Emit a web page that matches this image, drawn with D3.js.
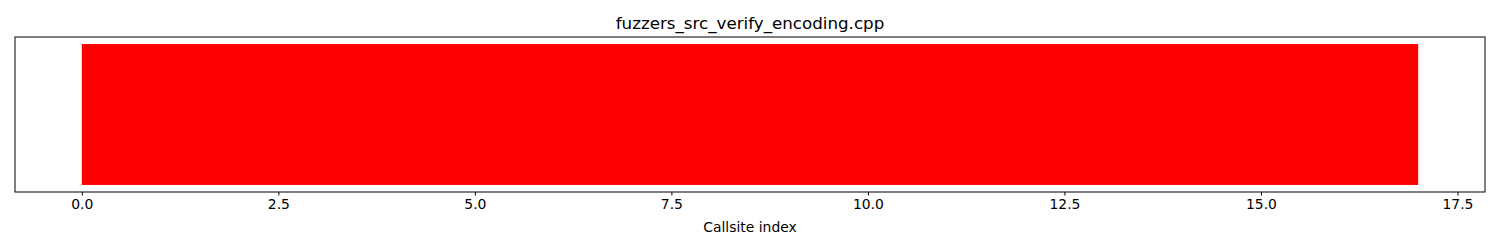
<!DOCTYPE html>
<html>
<head>
<meta charset="utf-8">
<script src="https://cdn.jsdelivr.net/npm/d3@7"></script>
<style>
  body { margin: 0; background: #fff; }
  text { font-family: "DejaVu Sans", sans-serif; fill: #000; }
</style>
</head>
<body>
<div id="chart"></div>
<script>
// data
var chartTitle = "fuzzers_src_verify_encoding.cpp";
var xLabel = "Callsite index";
var barStarts = [0];
var barEnds = [17];
var barColors = ["red"];
var xTicks = [0, 2.5, 5, 7.5, 10, 12.5, 15, 17.5];

var svgWidth = 1500;
var svgHeight = 250;
var margin = { top: 37, right: 15, bottom: 58, left: 15 };
var width = svgWidth - margin.left - margin.right;
var height = svgHeight - margin.top - margin.bottom;

var svg = d3.select("#chart").append("svg")
  .attr("width", svgWidth)
  .attr("height", svgHeight);

var g = svg.append("g")
  .attr("transform", `translate(${margin.left}, ${margin.top})`);

// matplotlib style 5% margins
var xMin = d3.min(barStarts), xMax = d3.max(barEnds);
var pad = (xMax - xMin) * 0.05;
var x = d3.scaleLinear().domain([xMin - pad, xMax + pad]).range([0, width]);
var y = d3.scaleLinear().domain([-0.05, 1.05]).range([height, 0]);

g.selectAll("rect.bar")
  .data(barStarts)
  .enter()
  .append("rect")
  .attr("class", "bar")
  .attr("x", function(d) { return x(d); })
  .attr("y", y(1))
  .attr("width", function(d, i) { return x(barEnds[i]) - x(d); })
  .attr("height", y(0) - y(1))
  .attr("fill", function(d, i) { return barColors[i]; });

// axis box
g.append("rect")
  .attr("x", 0).attr("y", 0)
  .attr("width", width).attr("height", height)
  .attr("fill", "none")
  .attr("stroke", "#000")
  .attr("stroke-width", 1);

var xAxis = g.append("g")
  .attr("transform", `translate(0, ${height})`)
  .call(d3.axisBottom(x).tickValues(xTicks).tickFormat(d3.format(".1f")).tickSize(3.5).tickPadding(4));
xAxis.select(".domain").remove();
xAxis.selectAll("text").style("font-size", "13.9px").attr("fill", "#000");
xAxis.selectAll("line").attr("stroke", "#000");

g.append("text")
  .attr("x", width / 2)
  .attr("y", height + 40)
  .attr("text-anchor", "middle")
  .style("font-size", "13.9px")
  .text(xLabel);

svg.append("text")
  .attr("x", margin.left + width / 2)
  .attr("y", 29)
  .attr("text-anchor", "middle")
  .style("font-size", "16.7px")
  .text(chartTitle);
</script>
</body>
</html>
